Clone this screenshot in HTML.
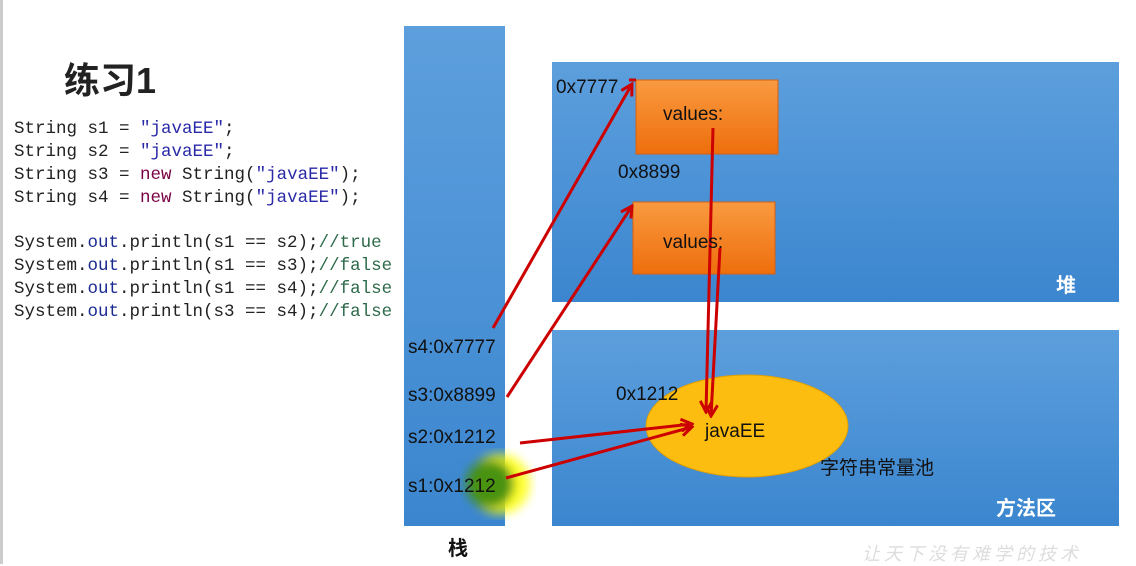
<!DOCTYPE html>
<html><head><meta charset="utf-8"><style>
body{margin:0;width:1136px;height:564px;background:#fff;position:relative;overflow:hidden;font-family:"Liberation Sans","Noto Sans CJK SC",sans-serif}
.code{position:absolute;left:14px;font-family:"Liberation Mono","Noto Sans CJK SC",monospace;font-size:17.5px;color:#222;white-space:pre;line-height:23px}
.k{color:#7a0044}.s{color:#2a2aa8}.o{color:#1a2a90}.c{color:#2d6a4a}
.t{position:absolute;font-size:19px;color:#111}
</style></head><body>
<div style="position:absolute;left:0;top:0;width:3px;height:564px;background:#ccc"></div>
<div style="position:absolute;left:64px;top:52px;font-size:36px;font-weight:bold;color:#222">练习1</div>
<div class="code" style="top:118px">String s1 = <span class="s">"javaEE"</span>;
String s2 = <span class="s">"javaEE"</span>;
String s3 = <span class="k">new</span> String(<span class="s">"javaEE"</span>);
String s4 = <span class="k">new</span> String(<span class="s">"javaEE"</span>);</div>
<div class="code" style="top:232px">System.<span class="o">out</span>.println(s1 == s2);<span class="c">//true</span>
System.<span class="o">out</span>.println(s1 == s3);<span class="c">//false</span>
System.<span class="o">out</span>.println(s1 == s4);<span class="c">//false</span>
System.<span class="o">out</span>.println(s3 == s4);<span class="c">//false</span></div>
<svg width="1136" height="564" style="position:absolute;left:0;top:0">
<defs>
<linearGradient id="b" x1="0" y1="0" x2="0" y2="1"><stop offset="0" stop-color="#5d9fdd"/><stop offset="1" stop-color="#3b86cf"/></linearGradient>
<linearGradient id="o" x1="0" y1="0" x2="0" y2="1"><stop offset="0" stop-color="#f99a40"/><stop offset="1" stop-color="#ee6e0c"/></linearGradient>
<marker id="a" markerWidth="14" markerHeight="14" refX="12" refY="7" orient="auto" markerUnits="userSpaceOnUse" viewBox="0 0 14 14"><path d="M1,1 L12,7 L1,13" fill="none" stroke="#c00" stroke-width="3"/></marker>
<filter id="bl"><feGaussianBlur stdDeviation="5"/></filter>
</defs>
<rect x="404" y="26" width="101" height="500" fill="url(#b)"/>
<rect x="552" y="62" width="567" height="240" fill="url(#b)"/>
<rect x="552" y="330" width="567" height="196" fill="url(#b)"/>
<rect x="636" y="80" width="142" height="74" fill="url(#o)" stroke="#d86010"/>
<rect x="633" y="202" width="142" height="72" fill="url(#o)" stroke="#d86010"/>
<ellipse cx="747" cy="426" rx="101" ry="51" fill="#fdbd10" stroke="#e0a000"/>
<g filter="url(#bl)">
<circle cx="500" cy="484" r="30" fill="#ff0" opacity="0.8"/>
<circle cx="490" cy="484" r="24" fill="#3a8a10" opacity="0.9"/>
</g>
<g stroke="#c00" stroke-width="3" fill="none">
<path d="M493,328 L632,84" marker-end="url(#a)"/>
<path d="M507,397 L632,206" marker-end="url(#a)"/>
<path d="M520,443 L692,424" marker-end="url(#a)"/>
<path d="M506,478 L692,427" marker-end="url(#a)"/>
<path d="M713,128 L706,412" marker-end="url(#a)"/>
<path d="M720,248 L711,416" marker-end="url(#a)"/>
<path d="M629,80 L636,80"/>
</g>
</svg>
<div class="t" style="left:556px;top:77px">0x7777</div>
<div class="t" style="left:618px;top:162px">0x8899</div>
<div class="t" style="left:663px;top:104px">values:</div>
<div class="t" style="left:663px;top:232px">values:</div>
<div class="t" style="left:408px;top:337px">s4:0x7777</div>
<div class="t" style="left:408px;top:385px">s3:0x8899</div>
<div class="t" style="left:408px;top:427px">s2:0x1212</div>
<div class="t" style="left:408px;top:476px">s1:0x1212</div>
<div class="t" style="left:616px;top:384px">0x1212</div>
<div class="t" style="left:705px;top:421px">javaEE</div>
<div class="t" style="left:820px;top:453px">字符串常量池</div>
<div class="t" style="left:1056px;top:269px;font-weight:bold;color:#fff;font-size:20px">堆</div>
<div class="t" style="left:996px;top:492px;font-weight:bold;color:#fff;font-size:20px">方法区</div>
<div class="t" style="left:448px;top:532px;font-weight:bold;font-size:20px">栈</div>
<div style="position:absolute;left:862px;top:540px;font-size:18px;color:#ddd;font-style:italic;letter-spacing:4px">让天下没有难学的技术</div>
</body></html>
